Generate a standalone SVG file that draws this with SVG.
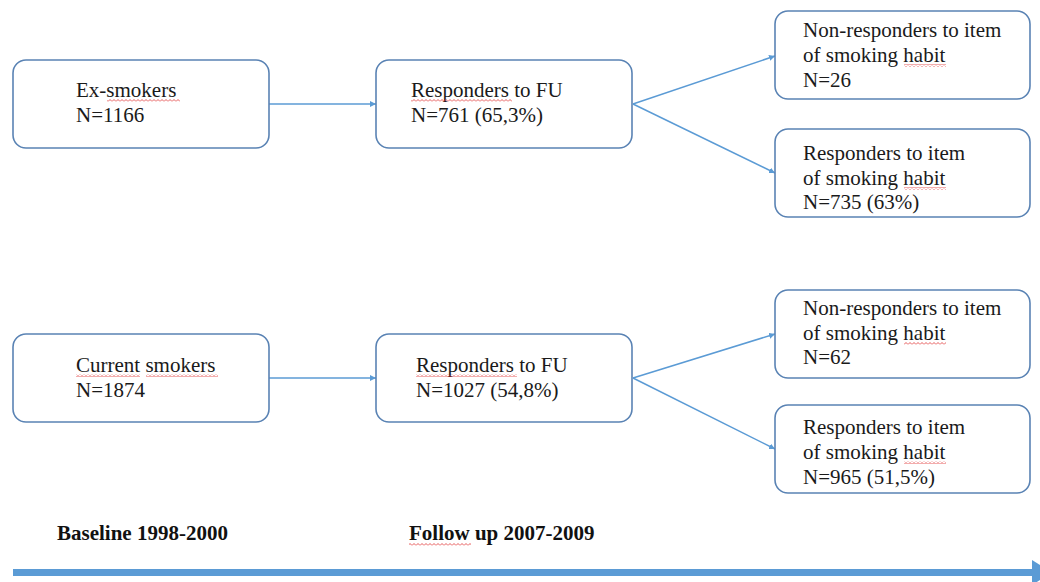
<svg xmlns="http://www.w3.org/2000/svg" width="1040" height="582" viewBox="0 0 1040 582">
<style>
.box{fill:#ffffff;stroke:#5A83B4;stroke-width:1.6}
.t{font-family:"Liberation Serif","Times New Roman",serif;font-size:21px;fill:#1a1a1a}
.b{font-family:"Liberation Serif","Times New Roman",serif;font-size:21px;font-weight:bold;fill:#111}
.c{stroke:#5B9BD5;stroke-width:1.5;fill:none;marker-end:url(#ah)}
.sq{fill:url(#wave)}
</style>
<defs>
<marker id="ah" viewBox="0 0 10 10" refX="10" refY="5" markerWidth="6" markerHeight="6" markerUnits="userSpaceOnUse" orient="auto">
<path d="M0,0 L10,5 L0,10 z" fill="#5B9BD5"/>
</marker>
<pattern id="wave" patternUnits="userSpaceOnUse" width="4" height="3">
<path d="M0,2.5 L2,0.5 L4,2.5" stroke="#E03030" stroke-width="0.8" fill="none"/>
</pattern>
</defs>
<g id="connectors">
<line class="c" x1="269" y1="104" x2="376" y2="104"/>
<line class="c" x1="633" y1="104" x2="775" y2="56"/>
<line class="c" x1="633" y1="104" x2="775" y2="173"/>
<line class="c" x1="269" y1="378" x2="376" y2="378"/>
<line class="c" x1="633" y1="378" x2="775" y2="334"/>
<line class="c" x1="633" y1="378" x2="775" y2="449"/>
</g>
<g id="ex-smokers">
<rect class="box" x="13" y="60" width="256" height="88" rx="13"/>
<text class="t" x="76" y="97">Ex-smokers</text>
<text class="t" x="76" y="122">N=1166</text>
<rect class="sq" x="107" y="99" width="73" height="3"/>
</g>
<g id="responders-fu-ex">
<rect class="box" x="376" y="60" width="256" height="88" rx="13"/>
<text class="t" x="411" y="97">Responders to FU</text>
<text class="t" x="411" y="122">N=761 (65,3%)</text>
<rect class="sq" x="411" y="99" width="101" height="3"/>
</g>
<g id="nonresp-item-ex">
<rect class="box" x="775" y="11" width="255" height="88" rx="13"/>
<text class="t" x="803" y="37">Non-responders to item</text>
<text class="t" x="803" y="62">of smoking habit</text>
<text class="t" x="803" y="87">N=26</text>
<rect class="sq" x="904" y="64" width="42" height="3"/>
</g>
<g id="resp-item-ex">
<rect class="box" x="775" y="129" width="255" height="88" rx="13"/>
<text class="t" x="803" y="160">Responders to item</text>
<text class="t" x="803" y="185">of smoking habit</text>
<text class="t" x="803" y="209">N=735 (63%)</text>
<rect class="sq" x="904" y="187" width="42" height="3"/>
</g>
<g id="current-smokers">
<rect class="box" x="13" y="334" width="256" height="88" rx="13"/>
<text class="t" x="76" y="372">Current smokers</text>
<text class="t" x="76" y="397">N=1874</text>
<rect class="sq" x="76" y="374" width="64" height="3"/>
<rect class="sq" x="146" y="374" width="72" height="3"/>
</g>
<g id="responders-fu-cur">
<rect class="box" x="376" y="334" width="256" height="88" rx="13"/>
<text class="t" x="416" y="372">Responders to FU</text>
<text class="t" x="416" y="397">N=1027 (54,8%)</text>
<rect class="sq" x="416" y="374" width="101" height="3"/>
</g>
<g id="nonresp-item-cur">
<rect class="box" x="775" y="290" width="255" height="88" rx="13"/>
<text class="t" x="803" y="315">Non-responders to item</text>
<text class="t" x="803" y="340">of smoking habit</text>
<text class="t" x="803" y="364">N=62</text>
<rect class="sq" x="904" y="342" width="42" height="3"/>
</g>
<g id="resp-item-cur">
<rect class="box" x="775" y="405" width="255" height="88" rx="13"/>
<text class="t" x="803" y="434">Responders to item</text>
<text class="t" x="803" y="459">of smoking habit</text>
<text class="t" x="803" y="484">N=965 (51,5%)</text>
<rect class="sq" x="904" y="461" width="42" height="3"/>
</g>
<g id="timeline">
<text class="b" x="57" y="540">Baseline 1998-2000</text>
<text class="b" x="409" y="540">Follow up 2007-2009</text>
<rect class="sq" x="409" y="543" width="62" height="3"/>
<rect x="13" y="569" width="1021" height="7" fill="#5B9BD5"/>
<path d="M1032,560 L1052,572.5 L1032,585 z" fill="#5B9BD5"/>
</g>
</svg>
